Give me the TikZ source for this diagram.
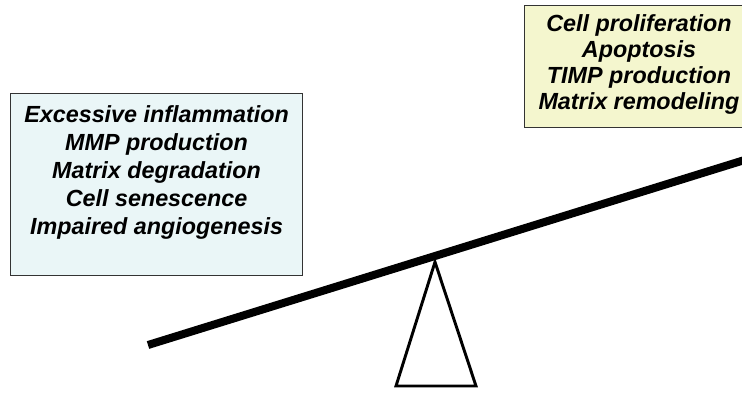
\documentclass[tikz,border=0pt]{standalone}
\usepackage{fontspec}
\setmainfont{Liberation Sans}
\usetikzlibrary{positioning,calc}
\definecolor{harmfill}{HTML}{EAF6F7}
\definecolor{healfill}{HTML}{F4F6CE}

\begin{document}
\begin{tikzpicture}[x=0.75pt,y=-0.75pt,
  box/.style={draw=black!80,line width=0.9pt,rectangle,anchor=north west,inner sep=0pt},
  lbl/.style={align=center,font=\fontsize{17.5}{21}\selectfont\bfseries\itshape,inner sep=0pt,anchor=north},
  beam/.style={line width=6pt},
  fulcrum/.style={line width=2.2pt,line join=miter}]
\useasboundingbox (0,0) rectangle (742,394);
\clip (0,0) rectangle (742,394);

% boxes (sizes in pt: 1px = 0.75pt)
\node[box,fill=harmfill,minimum width=219pt,minimum height=136.5pt] (harm) at (10,93) {};
\node[box,fill=healfill,minimum width=180pt,minimum height=91.5pt] (heal) at (524,5) {};

\node[lbl] (harmtxt) at ($(harm.north)+(0,12)$) {Excessive inflammation\\MMP production\\Matrix degradation\\Cell senescence\\Impaired angiogenesis};
\node[lbl,font=\fontsize{17.5}{19.5}\selectfont\bfseries\itshape] (healtxt) at (639,14) {Cell proliferation\\Apoptosis\\TIMP production\\Matrix remodeling};

% seesaw
\coordinate (lend) at (148,345);
\coordinate (pivot) at (435,256);
\coordinate (top) at (435,262);
\coordinate (bl) at (396,386);
\coordinate (br) at (476,386);

\draw[beam] (lend) -- ($(lend)!2.12!(pivot)$);
\draw[fulcrum] (top) -- (bl) -- (br) -- cycle;
\end{tikzpicture}
\end{document}
